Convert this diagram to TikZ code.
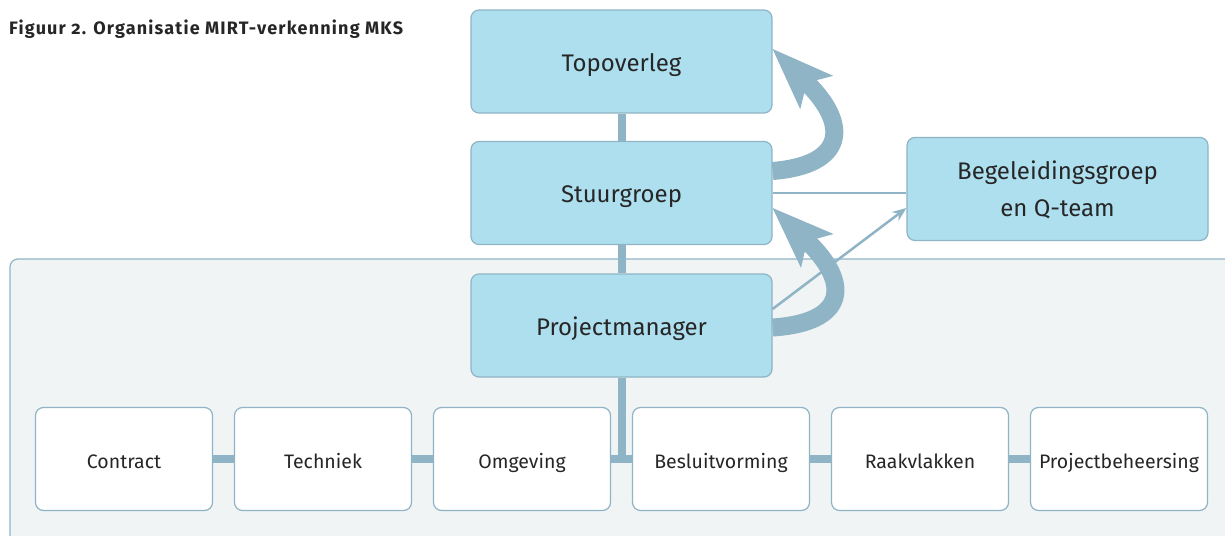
\documentclass[tikz,border=0pt]{standalone}
\usepackage{fontspec}
\setmainfont{Fira Sans}
\usetikzlibrary{arrows.meta}
\definecolor{boxblue}{RGB}{174,223,238}
\definecolor{lineblue}{RGB}{143,180,198}
\definecolor{panelgrey}{RGB}{240,244,245}
\definecolor{textgrey}{RGB}{38,38,38}
\tikzset{
  mainbox/.style={draw=lineblue, line width=1.2pt, fill=boxblue, rounded corners=8pt,
    minimum width=301pt, minimum height=103pt, align=center, text=textgrey,
    text height=24pt, text depth=5pt, font=\fontsize{24}{37}\selectfont},
  subbox/.style={draw=lineblue, line width=1.2pt, fill=white, rounded corners=8pt,
    minimum width=177pt, minimum height=103pt, text=textgrey,
    text height=20pt, text depth=1.4pt, font=\fontsize{19.5}{24}\selectfont},
  bar/.style={lineblue, line width=8pt},
  linkline/.style={lineblue, line width=2.5pt},
  feedback/.style={lineblue, line width=18pt,
    -{Stealth[length=62pt, width=47pt, inset=14pt, line width=0pt]}}
}
\begin{document}
\begin{tikzpicture}[x=1pt, y=-1pt]
  \clip (0,0) rectangle (1225,535);
  \fill[white] (0,0) rectangle (1225,535);
  \draw[draw=lineblue, fill=panelgrey, line width=1.2pt, rounded corners=8pt]
    (10,259) rectangle (1260,570);
  \node[anchor=base west, inner sep=0pt, text=textgrey,
    font=\fontsize{18}{21}\selectfont\bfseries\addfontfeatures{Numbers=OldStyle, LetterSpace=6.5}]
    (title) at (9,34.3) {Figuur 2. Organisatie MIRT-verkenning MKS};

  \node[mainbox] (top) at (621.5,61.5) {Topoverleg};
  \node[mainbox] (stuur) at (621.5,193) {Stuurgroep};
  \node[mainbox] (pm) at (621.5,325.5) {Projectmanager};
  \node[mainbox, text height=59pt] (begel) at (1057.5,189) {Begeleidingsgroep\\en Q-team};

  \foreach \name/\label [count=\i] in {contract/Contract, techniek/Techniek,
      omgeving/Omgeving, besluit/Besluitvorming, raakvlak/Raakvlakken,
      beheer/Projectbeheersing}
    \node[subbox] (\name) at ({124+199*(\i-1)},459) {\label};

  \draw[bar] (top) -- (stuur);
  \draw[bar] (stuur) -- (pm);
  \draw[bar] (pm.south) -- (pm.south |- omgeving.east);
  \foreach \a/\b in {contract/techniek, techniek/omgeving, omgeving/besluit,
      besluit/raakvlak, raakvlak/beheer}
    \draw[bar] (\a.east) -- (\b.west);

  \draw[linkline] (stuur.east) -- (stuur.east -| begel.west);
  \draw[linkline, -{Stealth[length=14pt, width=11pt]}]
    ([yshift=16.5pt]pm.east) -- ([yshift=-19pt]begel.west);

  \draw[feedback] ([yshift=22pt]stuur.east) .. controls +(73,-6) and +(77,76) .. ([yshift=12.5pt]top.east);
  \draw[feedback] ([yshift=-2pt]pm.east) .. controls +(75,-5) and +(78,75) .. ([yshift=-15pt]stuur.east);
\end{tikzpicture}
\end{document}
